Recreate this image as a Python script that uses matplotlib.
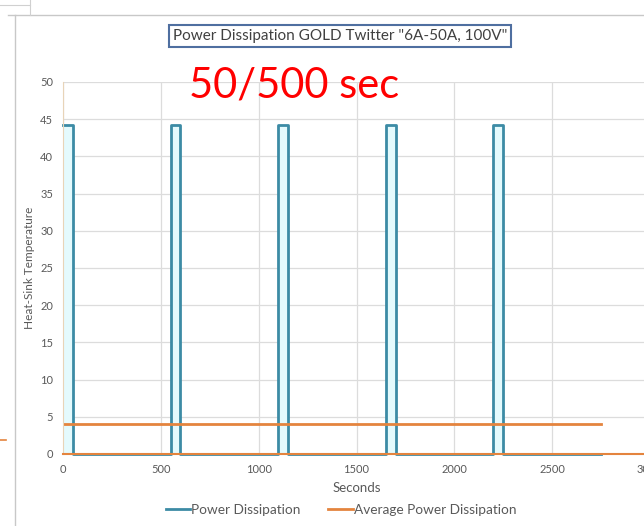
import matplotlib.pyplot as plt
from matplotlib.lines import Line2D

# step series: power on for 50 s, off for 500 s
seconds = [0, 50, 50, 550, 550, 600, 600, 1100, 1100, 1150, 1150,
           1650, 1650, 1700, 1700, 2200, 2200, 2250, 2250, 2750]
power = [44.2, 44.2, 0, 0, 44.2, 44.2, 0, 0, 44.2, 44.2, 0,
         0, 44.2, 44.2, 0, 0, 44.2, 44.2, 0, 0]
avg_seconds = [0, 2750]
avg_power = [4.02, 4.02]

x_ticks = [0, 500, 1000, 1500, 2000, 2500, 3000]
y_ticks = [0, 5, 10, 15, 20, 25, 30, 35, 40, 45, 50]

blue = "#3C8BA5"
orange = "#E4843E"
grey_text = "#595959"

plt.rcParams["font.family"] = ["Lato", "DejaVu Sans"]

fig = plt.figure(figsize=(6.44, 5.26), dpi=100)
fig.patch.set_facecolor("white")

# outline of the chart object and the sheet behind it
fig.add_artist(Line2D([15 / 644, 15 / 644], [0, 1 - 15 / 526], color="#c8c8c8", lw=1))
fig.add_artist(Line2D([8 / 644, 1], [1 - 15 / 526, 1 - 15 / 526], color="#c8c8c8", lw=1))
fig.add_artist(Line2D([30 / 644, 30 / 644], [1, 1 - 15 / 526], color="#d0d0d0", lw=0.8))
fig.add_artist(Line2D([0, 30 / 644], [1 - 5 / 526, 1 - 5 / 526], color="#d0d0d0", lw=0.8))
fig.add_artist(Line2D([0, 6 / 644], [1 - 440 / 526, 1 - 440 / 526], color=orange, lw=1.2))

ax = fig.add_axes([63 / 644, 72 / 526, 587 / 644, 372 / 526])
ax.set_xlim(0, 3000)
ax.set_ylim(0, 50)
ax.set_xticks(x_ticks)
ax.set_yticks(y_ticks)
ax.grid(True, color="#dcdcdc", lw=0.9)
ax.set_axisbelow(True)
ax.tick_params(length=0, colors=grey_text, labelsize=8, pad=7)
for side in ["top", "right"]:
    ax.spines[side].set_visible(False)
ax.spines["left"].set_color("#e8d4b8")
ax.spines["bottom"].set_color(orange)
ax.spines["bottom"].set_linewidth(1.5)

ax.fill_between(seconds, power, color="#e4fafd", lw=0)
ax.plot(seconds, power, color=blue, lw=2.0, label="Power Dissipation", clip_on=False)
ax.plot(avg_seconds, avg_power, color=orange, lw=2.0, label="Average Power Dissipation")

ax.set_xlabel("Seconds", color=grey_text, fontsize=9.5, labelpad=5)
ax.set_ylabel("Heat-Sink Temperature", color=grey_text, fontsize=8.5)
ax.yaxis.set_label_coords(-28 / 587, 0.5)

fig.text(340 / 644, 1 - 36 / 526, 'Power Dissipation GOLD Twitter "6A-50A, 100V"',
         ha="center", va="center", fontsize=11, color="#404040",
         bbox=dict(boxstyle="square,pad=0.25", fc="white", ec="#4f6fa0", lw=1.5))
fig.text(294 / 644, 1 - 86 / 526, "50/500 sec", ha="center", va="center",
         fontsize=30, color="#ff0000")

fig.legend(loc="center", bbox_to_anchor=(341 / 644, 1 - 510 / 526), ncol=2,
           frameon=False, fontsize=9.8, labelcolor=grey_text, handlelength=1.8,
           handletextpad=0.1, columnspacing=2.0)

fig.savefig("out.png", dpi=100)
